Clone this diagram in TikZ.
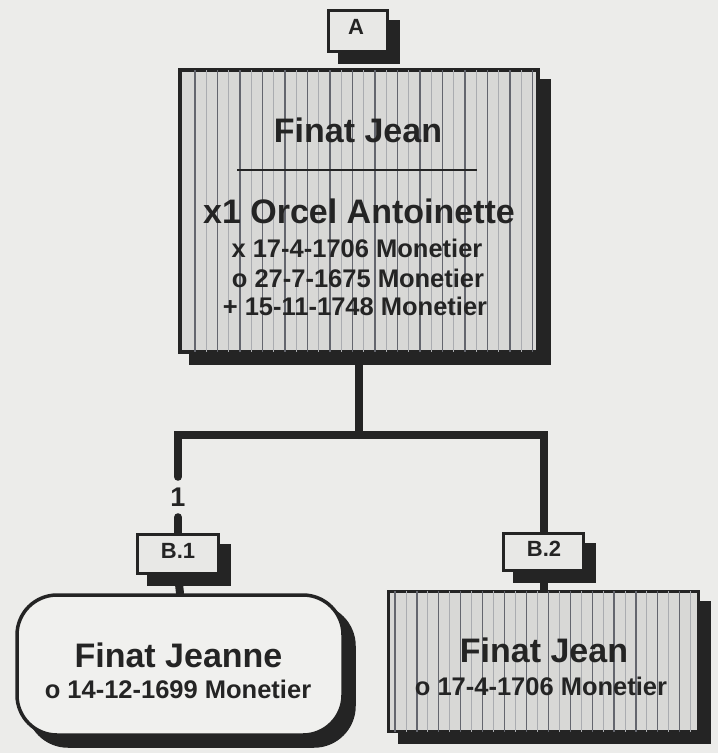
\documentclass[tikz,border=0pt]{standalone}
\usepackage{fontspec}
\setmainfont{Liberation Sans}
\usetikzlibrary{shadows,calc}
\pgfdeclarelayer{paper}
\pgfdeclarelayer{back}
\pgfsetlayers{paper,back,main}
\definecolor{bgc}{RGB}{236,236,234}
\definecolor{ink}{RGB}{36,36,36}
\definecolor{texc}{RGB}{216,216,214}
\definecolor{streakc}{RGB}{100,102,110}
\definecolor{faintc}{RGB}{170,172,176}
\definecolor{labc}{RGB}{232,232,230}
\definecolor{roundc}{RGB}{240,240,238}
\tikzset{
  shad/.style={general shadow={fill=ink, draw=ink, line width=#1, shadow xshift=11pt, shadow yshift=-11pt}},
  bigbox/.style={rectangle, draw=ink, line width=3.5pt, fill=texc, inner sep=0pt, shad=3.5pt},
  labbox/.style={rectangle, draw=ink, line width=3pt, fill=labc, inner sep=0pt, shad=3pt},
  roundbox/.style={rectangle, rounded corners=40pt, draw=ink, line width=3.5pt, fill=roundc, inner sep=0pt, shad=3.5pt},
  conn/.style={draw=ink, line width=8pt, line cap=round, line join=miter},
  streak/.style={draw=streakc, line width=1.2pt},
  faint/.style={draw=faintc, line width=1pt},
  bigtxt/.style={font=\fontsize{34}{40}\selectfont\bfseries, text=ink, anchor=base, inner sep=0pt},
  smalltxt/.style={font=\fontsize{25.5}{30}\selectfont\bfseries, text=ink, anchor=base, inner sep=0pt},
  labtxt/.style={font=\fontsize{22}{26}\selectfont\bfseries, text=ink, anchor=base, inner sep=0pt},
  numtxt/.style={font=\fontsize{27}{30}\selectfont\bfseries, text=ink, minimum height=40pt, inner sep=0pt},
}
\begin{document}
\begin{tikzpicture}[x=1pt,y=-1pt]
\begin{pgfonlayer}{paper}
  \fill[bgc] (0,0) rectangle (718,753);
\end{pgfonlayer}
\useasboundingbox (0,0) rectangle (718,753);

% boxes
\node[labbox, minimum width=59pt, minimum height=41pt] (labA) at (358,31) {};
\node[bigbox, minimum width=358pt, minimum height=282pt] (boxA) at (359,211) {};
\node[labbox, minimum width=81pt, minimum height=39pt] (labB1) at (178,554) {};
\node[labbox, minimum width=80pt, minimum height=37pt] (labB2) at (543.5,552) {};
\node[roundbox, minimum width=326pt, minimum height=140pt] (boxB1) at (180,665) {};
\node[bigbox, minimum width=310pt, minimum height=140pt] (boxB2) at (543.5,661.5) {};

% texture streaks
\begin{scope}
  \clip ([shift={(2,2)}]boxA.north west) rectangle ([shift={(-2,-2)}]boxA.south east);
  \foreach \x in {0,...,15} {
    \draw[faint] (206+22.5*\x,60) -- (206+22.5*\x,360);
    \draw[streak] (195+22.5*\x,60) -- (195+22.5*\x,360);
  }
\end{scope}
\begin{scope}
  \clip ([shift={(2,2)}]boxB2.north west) rectangle ([shift={(-2,-2)}]boxB2.south east);
  \foreach \x in {0,...,13} {
    \draw[faint] (406+21.9*\x,585) -- (406+21.9*\x,740);
    \draw[streak] (395+21.9*\x,585) -- (395+21.9*\x,740);
  }
\end{scope}

% texts
\node[labtxt] (tA) at (356,34) {A};
\node[labtxt] (tB1) at (178,558) {B.1};
\node[labtxt] (tB2) at (544,556) {B.2};

\node[bigtxt] (aname) at (358,142) {Finat Jean};
\draw[ink, line width=1.1pt] (237,170) -- (477,170);
\node[bigtxt] (aspouse) at (359,223) {x1 Orcel Antoinette};
\node[smalltxt] (amar) at (357,257) {x 17-4-1706 Monetier};
\node[smalltxt] (abirth) at (358,287) {o 27-7-1675 Monetier};
\node[smalltxt] (adeath) at (355,315) {+ 15-11-1748 Monetier};

\node[bigtxt] (b1name) at (178.5,667) {Finat Jeanne};
\node[smalltxt] (b1birth) at (178,698) {o 14-12-1699 Monetier};
\node[bigtxt] (b2name) at (544,662) {Finat Jean};
\node[smalltxt] (b2birth) at (541,695) {o 17-4-1706 Monetier};

% connectors
\node[numtxt] (one) at (178,497) {1};
\coordinate (j) at (359,435);
\begin{pgfonlayer}{back}
  \draw[conn] (boxA.south) -- (j);
  \draw[conn] (one.north) |- (j) -| (labB2.north);
  \draw[conn] (one.south) -- (labB1.north);
  \draw[conn] (labB1.south) -- (boxB1.north);
  \draw[conn] (labB2.south) -- (boxB2.north);
\end{pgfonlayer}
\end{tikzpicture}
\end{document}
